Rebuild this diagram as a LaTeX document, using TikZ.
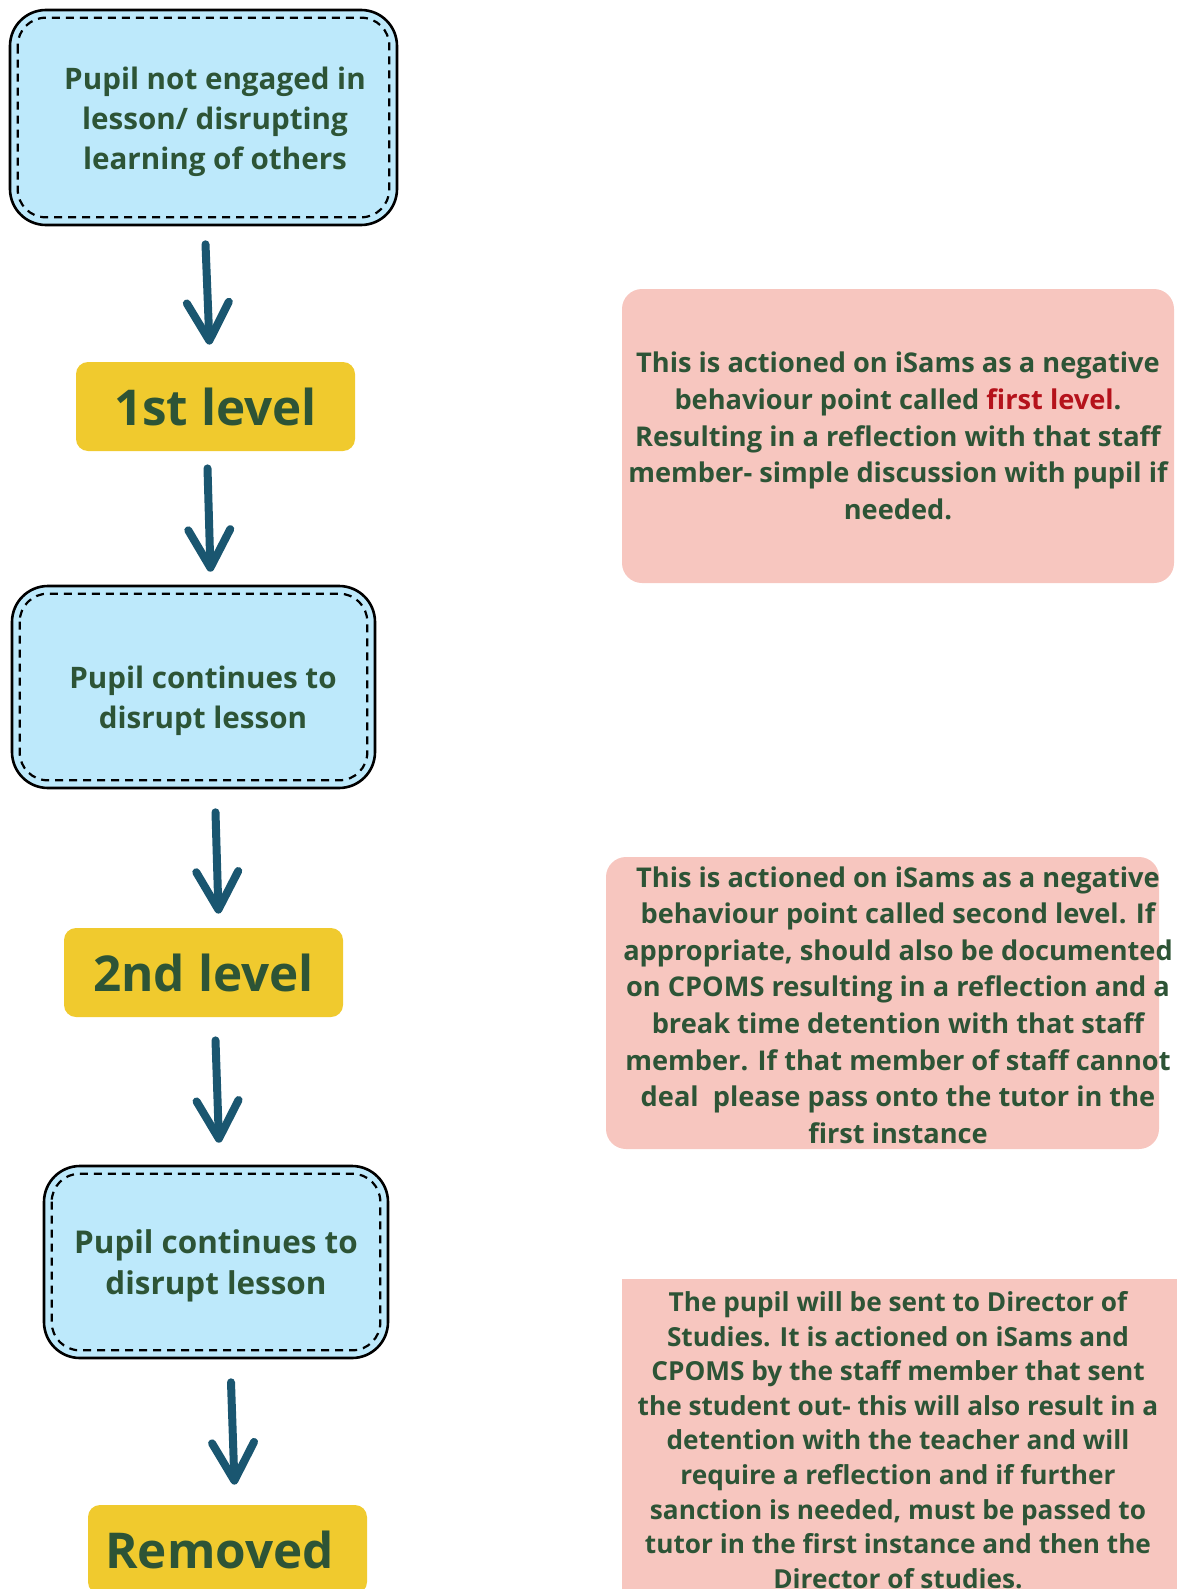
\documentclass[tikz,border=0pt]{standalone}
\usepackage{fontspec}
\setmainfont{Open Sans}
\usetikzlibrary{arrows.meta,positioning}

\definecolor{pupilblue}{HTML}{BDE9FB}
\definecolor{levelyellow}{HTML}{F0CA2E}
\definecolor{notepink}{HTML}{F7C6BF}
\definecolor{textgreen}{HTML}{2D5436}
\definecolor{arrowteal}{HTML}{1A5670}
\definecolor{levelred}{HTML}{B5121B}

\begin{document}
\begin{tikzpicture}[x=0.5pt, y=-0.5pt,
    pupilbox/.style={draw=black, line width=1.3pt, fill=pupilblue, rounded corners=18pt, inner sep=0pt},
    pupiltext/.style={align=center, text=textgreen, font=\bfseries\fontsize{14.8}{20}\selectfont},
    innerdash/.style={draw=black, line width=1.1pt, dash pattern=on 4pt off 3pt, rounded corners=14pt},
    levelbox/.style={fill=levelyellow, rounded corners=6pt, inner sep=0pt,
        minimum width=139.5pt, minimum height=44.5pt, text=textgreen, font=\bfseries\fontsize{24.7}{30}\selectfont},
    notebox/.style={fill=notepink, inner sep=0pt},
    notetext/.style={align=center, text=textgreen, font=\bfseries\fontsize{13.6}{18.3}\selectfont},
    flowarrow/.style={draw=arrowteal, line width=4pt, line cap=round,
        -{Straight Barb[round, length=19pt, width=21pt]}}
]
\useasboundingbox (0,0) rectangle (1177,1589);

% Left column: pupil behaviour and levels
\node[pupilbox, minimum width=193.5pt, minimum height=107.5pt] (box1) at (203.5,117.5) {};
\draw[innerdash] ([shift={(9,9)}]box1.north west) rectangle ([shift={(-9,-9)}]box1.south east);
\node[pupiltext] (box1text) at (215,122) {Pupil not engaged in\\lesson/ disrupting\\learning of others};

\node[levelbox] (lvl1) at (215.5,406.5) {1st level};

\node[pupilbox, minimum width=181.5pt, minimum height=101pt] (box2) at (193.5,687) {};
\draw[innerdash] ([shift={(9,9)}]box2.north west) rectangle ([shift={(-9,-9)}]box2.south east);
\node[pupiltext] (box2text) at (203,701) {Pupil continues to\\disrupt lesson};

\node[levelbox] (lvl2) at (203.5,972.5) {2nd level};

\node[pupilbox, minimum width=172pt, minimum height=96pt] (box3) at (216,1262) {};
\draw[innerdash] ([shift={(9,9)}]box3.north west) rectangle ([shift={(-9,-9)}]box3.south east);
\node[pupiltext, font=\bfseries\fontsize{15.7}{20.5}\selectfont] (box3text) at (216,1266) {Pupil continues to\\disrupt lesson};

\node[levelbox] (removed) at (227.5,1549.5) {\hspace*{-8pt}Removed};

% Arrows
\draw[flowarrow] ([xshift=1pt,yshift=-9pt]box1.south) -- ([xshift=-3pt,yshift=8.5pt]lvl1.north);
\draw[flowarrow] ([xshift=-4pt,yshift=-8.5pt]lvl1.south) -- ([xshift=8.5pt,yshift=6.5pt]box2.north);
\draw[flowarrow] ([xshift=11pt,yshift=-11.5pt]box2.south) -- ([xshift=7.5pt,yshift=7pt]lvl2.north);
\draw[flowarrow] ([xshift=6pt,yshift=-11.5pt]lvl2.south) -- ([xshift=1.5pt,yshift=11pt]box3.north);
\draw[flowarrow] ([xshift=7.5pt,yshift=-11.5pt]box3.south) -- ([xshift=3.5pt,yshift=10pt]removed.north);

% Right column: what happens at each level
\node[notebox, rounded corners=10pt, minimum width=276pt, minimum height=147pt] (note1box) at (898,436) {};
\node[notetext] (note1) at (898,436)
    {This is actioned on iSams as a negative\\behaviour point called \textcolor{levelred}{first level}.\\Resulting in a reflection with that staff\\member- simple discussion with pupil if\\needed.};

\node[notebox, rounded corners=10pt, minimum width=276.5pt, minimum height=146pt] (note2box) at (882.5,1003) {};
\node[notetext] (note2) at (898,1005)
    {This is actioned on iSams as a negative\\behaviour point called second level. If\\appropriate, should also be documented\\on CPOMS resulting in a reflection and a\\break time detention with that staff\\member. If that member of staff cannot\\deal\ \ please pass onto the tutor in the\\first instance};

\node[notebox, minimum width=277.5pt, minimum height=155pt] (note3box) at (899.5,1434) {};
\node[notetext, font=\bfseries\fontsize{13.1}{17.3}\selectfont] (note3) at (898,1440)
    {The pupil will be sent to Director of\\Studies. It is actioned on iSams and\\CPOMS by the staff member that sent\\the student out- this will also result in a\\detention with the teacher and will\\require a reflection and if further\\sanction is needed, must be passed to\\tutor in the first instance and then the\\Director of studies.};
\end{tikzpicture}
\end{document}
